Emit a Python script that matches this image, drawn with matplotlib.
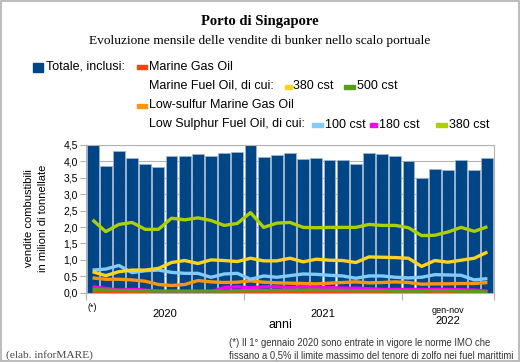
import numpy as np
import matplotlib.pyplot as plt
from matplotlib.patches import Rectangle
from matplotlib.ticker import FuncFormatter

W, H = 521, 362

# ── dati (milioni di tonnellate) ─────────────────────────────────────────────
totale = [4.50, 3.87, 4.32, 4.11, 3.92, 3.82, 4.15, 4.17, 4.22, 4.15, 4.25, 4.28,
          4.50, 4.12, 4.20, 4.25, 4.07, 4.11, 4.05, 4.05, 3.93, 4.25, 4.22, 4.18,
          4.02, 3.50, 3.76, 3.74, 4.03, 3.74, 4.11]
mgo = [0.03, 0.03, 0.02, 0.02, 0.02, 0.02, 0.02, 0.02, 0.02, 0.02, 0.02, 0.02,
       0.02, 0.02, 0.02, 0.02, 0.02, 0.02, 0.02, 0.02, 0.02, 0.02, 0.02, 0.02,
       0.02, 0.02, 0.02, 0.02, 0.02, 0.02, 0.02]
mfo_380 = [0.64, 0.52, 0.64, 0.69, 0.69, 0.74, 0.92, 0.98, 0.89, 1.00, 0.98, 0.95,
           1.05, 0.97, 0.97, 1.05, 0.94, 1.02, 0.99, 0.98, 0.92, 1.09, 1.08, 1.07,
           1.05, 0.80, 0.98, 0.93, 0.99, 1.05, 1.24]
mfo_500 = [0.10, 0.08, 0.07, 0.06, 0.06, 0.05, 0.05, 0.05, 0.05, 0.05, 0.05, 0.06,
           0.06, 0.07, 0.07, 0.07, 0.08, 0.08, 0.07, 0.07, 0.06, 0.06, 0.06, 0.05,
           0.05, 0.05, 0.06, 0.06, 0.05, 0.04, 0.02]
lsmgo = [0.45, 0.41, 0.41, 0.39, 0.35, 0.25, 0.22, 0.25, 0.37, 0.33, 0.31, 0.32,
         0.36, 0.32, 0.30, 0.29, 0.28, 0.27, 0.29, 0.31, 0.33, 0.30, 0.31, 0.33,
         0.31, 0.26, 0.27, 0.27, 0.28, 0.28, 0.31]
lsfo_100 = [0.69, 0.72, 0.83, 0.61, 0.67, 0.69, 0.62, 0.59, 0.59, 0.47, 0.57, 0.59,
            0.41, 0.51, 0.47, 0.52, 0.57, 0.56, 0.53, 0.51, 0.44, 0.51, 0.51, 0.47,
            0.45, 0.47, 0.55, 0.54, 0.53, 0.39, 0.43]
lsfo_180 = [0.18, 0.13, 0.08, 0.10, 0.08, 0.04, 0.00, 0.00, 0.00, 0.02, 0.16, 0.18,
            0.15, 0.18, 0.18, 0.16, 0.18, 0.16, 0.16, 0.14, 0.14, 0.12, 0.10, 0.10,
            0.10, 0.10, 0.10, 0.10, 0.09, 0.08, 0.05]
lsfo_380 = [2.22, 1.86, 2.08, 2.14, 1.93, 1.93, 2.27, 2.22, 2.28, 2.20, 2.05, 2.11,
            2.44, 1.99, 2.12, 2.14, 1.99, 1.98, 1.99, 1.99, 1.99, 2.08, 2.05, 2.05,
            1.98, 1.74, 1.75, 1.85, 1.99, 1.87, 2.01]
anni = ["2020", "2021", "gen-nov\n2022"]
mesi_per_anno = [12, 12, 7]

C_TOT = "#004586"
C_MGO = "#ff420e"
C_MFO380 = "#ffd320"
C_MFO500 = "#579d1c"
C_LSMGO = "#ff950e"
C_LS100 = "#83caff"
C_LS180 = "#ff00ee"
C_LS380 = "#aecf00"

plt.rcParams["font.family"] = ["Liberation Sans", "DejaVu Sans"]

fig = plt.figure(figsize=(W / 100, H / 100), dpi=100)


def fx(px):
    return px / W


def fy(py):
    return 1 - py / H


# bordo esterno
fig.patches.append(Rectangle((0.001, 0.002), 0.996, 0.995, transform=fig.transFigure,
                             fill=False, edgecolor="#b0b0b0", linewidth=1.2))

ax = fig.add_axes([fx(86), fy(292.7), fx(494) - fx(86), fy(145) - fy(292.7)])

x = np.arange(len(totale))
ax.bar(x, totale, width=0.9, color=C_TOT, edgecolor="#9fb3cc", linewidth=0.6, zorder=2)

serie = [(lsfo_380, C_LS380), (mfo_380, C_MFO380), (lsfo_100, C_LS100),
         (lsmgo, C_LSMGO), (mfo_500, C_MFO500), (lsfo_180, C_LS180), (mgo, C_MGO)]
for vals, col in serie[::-1]:
    ax.plot(x, vals, color=col, linewidth=2.4, solid_capstyle="butt", zorder=3)

ax.set_xlim(-0.5, len(totale) - 0.5)
ax.set_ylim(0, 4.5)
ax.set_yticks(np.arange(0, 4.51, 0.5))
ax.yaxis.set_major_formatter(FuncFormatter(lambda v, p: f"{v:.1f}".replace(".", ",")))
ax.tick_params(axis="y", labelsize=7.5, length=4, color="#b3b3b3", pad=2)
ax.grid(axis="y", color="#b3b3b3", linewidth=0.8, zorder=0)
for s in ax.spines.values():
    s.set_color("#b3b3b3")

# confini anni sull'asse x
confini = np.concatenate([[0], np.cumsum(mesi_per_anno)]) - 0.5
ax.set_xticks(confini)
ax.set_xticklabels([])
ax.tick_params(axis="x", length=5, color="#b3b3b3")
centri = (confini[:-1] + confini[1:]) / 2
for c, lab in zip(centri, anni):
    if "\n" in lab:
        top, bot = lab.split("\n")
        ax.text(c, -0.09, top, transform=ax.get_xaxis_transform(), ha="center", va="top", fontsize=6.5)
        ax.text(c, -0.155, bot, transform=ax.get_xaxis_transform(), ha="center", va="top", fontsize=8)
    else:
        ax.text(c, -0.11, lab, transform=ax.get_xaxis_transform(), ha="center", va="top", fontsize=8)
ax.text(0, -0.07, "(*)", transform=ax.get_xaxis_transform(), ha="center", va="top", fontsize=6.5)

fig.text(fx(280), fy(325), "anni", ha="center", va="center", fontsize=9)
fig.text(fx(36), fy(218), "vendite combustibili\nin milioni di tonnellate", rotation=90,
         ha="center", va="center", fontsize=8, linespacing=1.45)

# titoli
fig.text(fx(260), fy(22), "Porto di Singapore", ha="center", va="center",
         fontsize=10.5, fontweight="bold", family="Liberation Serif")
fig.text(fx(260), fy(41), "Evoluzione mensile delle vendite di bunker nello scalo portuale",
         ha="center", va="center", fontsize=9.6, family="Liberation Serif")

# legenda manuale
def patch(x0, x1, yc, h, col):
    fig.patches.append(Rectangle((fx(x0), fy(yc + h / 2)), fx(x1) - fx(x0), h / H,
                                 transform=fig.transFigure, color=col))


def voce(px, py, txt):
    fig.text(fx(px), fy(py), txt, ha="left", va="center", fontsize=9)


patch(33, 43, 67, 9, C_TOT)
voce(45.5, 66.5, "Totale, inclusi:")
patch(137, 147, 67, 4, C_MGO)
voce(149, 66.5, "Marine Gas Oil")
voce(149, 86, "Marine Fuel Oil, di cui:")
patch(285, 292, 86.5, 4, C_MFO380)
voce(293, 86, "380 cst")
patch(344, 355, 86.5, 4, C_MFO500)
voce(357, 86, "500 cst")
patch(137, 147, 105.5, 4, C_LSMGO)
voce(149, 105, "Low-sulfur Marine Gas Oil")
voce(149, 124.5, "Low Sulphur Fuel Oil, di cui:")
patch(312, 323, 125, 4, C_LS100)
voce(325, 124.5, "100 cst")
patch(370, 377, 125, 4, C_LS180)
voce(379, 124.5, "180 cst")
patch(436, 447, 125, 4, C_LS380)
voce(449, 124.5, "380 cst")

# note
fig.text(fx(229), fy(349), "(*) Il 1° gennaio 2020 sono entrate in vigore le norme IMO che\n"
         "fissano a 0,5% il limite massimo del tenore di zolfo nei fuel marittimi",
         ha="left", va="center", fontsize=6.85, linespacing=1.25, color="#333333")
fig.text(fx(6), fy(355), "(elab. inforMARE)", ha="left", va="center", fontsize=8.2,
         family="Liberation Serif", color="#444444")

fig.savefig("out.png", dpi=100)
